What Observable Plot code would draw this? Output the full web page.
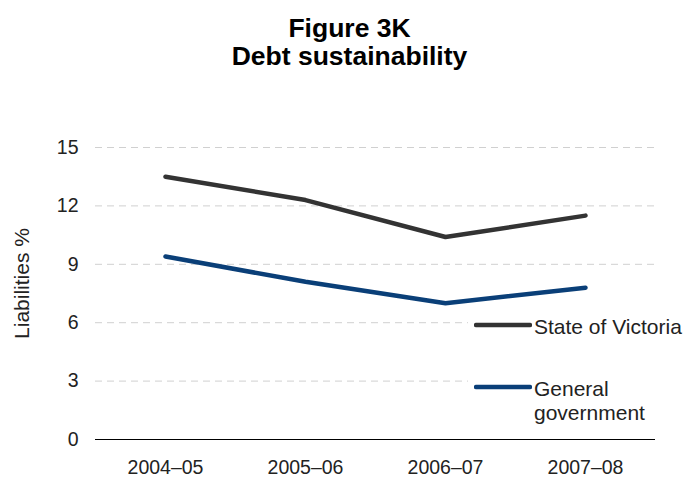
<!DOCTYPE html>
<html>
<head>
<meta charset="utf-8">
<script src="https://cdn.jsdelivr.net/npm/d3@7"></script>
<script src="https://cdn.jsdelivr.net/npm/@observablehq/plot@0.6"></script>
<style>
  html, body { margin: 0; padding: 0; background: #fff; }
  body { width: 687px; height: 484px; position: relative; font-family: "Liberation Sans", Arial, sans-serif; }
  #title { height: 80px; width: 687px; text-align: center; font-weight: bold; font-size: 26.5px; line-height: 28px; padding-top: 14px; box-sizing: border-box; padding-left: 12px; color: #000; }
  #legend { position: absolute; left: 468px; top: 306px; width: 219px; height: 122px; background: #fff; font-size: 21px; color: #222; }
  .item { position: absolute; left: 6px; display: flex; align-items: flex-start; white-space: nowrap; }
  .item svg { margin-top: 4px; }
  .item span { margin-left: 2px; margin-top: 4px; line-height: 24px; }
</style>
</head>
<body>
<div id="title">Figure 3K<br>Debt sustainability</div>
<div id="chart"></div>
<div id="legend"></div>
<script>
const years = ["2004–05", "2005–06", "2006–07", "2007–08"];
const seriesNames = ["State of Victoria", "General government"];
const victoria = [13.5, 12.3, 10.4, 11.5];
const generalGovernment = [9.4, 8.1, 7.0, 7.8];
const yTicks = [0, 3, 6, 9, 12, 15];
const colors = ["#333333", "#0a3f78"];

const data = [];
years.forEach((y, i) => {
  data.push({year: y, series: seriesNames[0], value: victoria[i]});
  data.push({year: y, series: seriesNames[1], value: generalGovernment[i]});
});

const chart = Plot.plot({
  width: 687,
  height: 404,
  marginLeft: 95,
  marginRight: 32,
  marginTop: 67,
  marginBottom: 45,
  style: {fontFamily: "Liberation Sans, Arial, sans-serif", fontSize: "20px", color: "#222", background: "#fff"},
  x: {type: "point", domain: years, padding: 0.5, label: null},
  y: {domain: [0, 15], ticks: yTicks, label: null},
  color: {domain: seriesNames, range: colors},
  marks: [
    Plot.ruleY(yTicks.filter(d => d > 0), {stroke: "#d0d0d0", strokeDasharray: "7,5", strokeWidth: 1}),
    Plot.ruleY([0], {stroke: "#000", strokeWidth: 1}),
    Plot.axisY({ticks: yTicks, tickSize: 0, tickPadding: 17, label: null, fontSize: 19.5}),
    Plot.axisX({tickSize: 0, tickPadding: 21, label: null, fontSize: 19.5}),
    Plot.line(data, {x: "year", y: "value", z: "series", stroke: "series", strokeWidth: 4.5, strokeLinecap: "round", strokeLinejoin: "miter"}),
    Plot.text(["Liabilities %"], {frameAnchor: "left", textAnchor: "middle", rotate: -90, dx: -73, dy: -10, fontSize: 21, fill: "#222"})
  ]
});
document.getElementById("chart").appendChild(chart);

const legend = document.getElementById("legend");
const tops = [5, 67];
const labels = ["State of Victoria", "General<br>government"];
seriesNames.forEach((s, i) => {
  const item = document.createElement("div");
  item.className = "item";
  item.style.top = tops[i] + "px";
  item.innerHTML = `<svg width="58" height="20"><line x1="2" y1="10" x2="56" y2="10" stroke="${colors[i]}" stroke-width="4.5" stroke-linecap="round"/></svg><span>${labels[i]}</span>`;
  legend.appendChild(item);
});
</script>
</body>
</html>
